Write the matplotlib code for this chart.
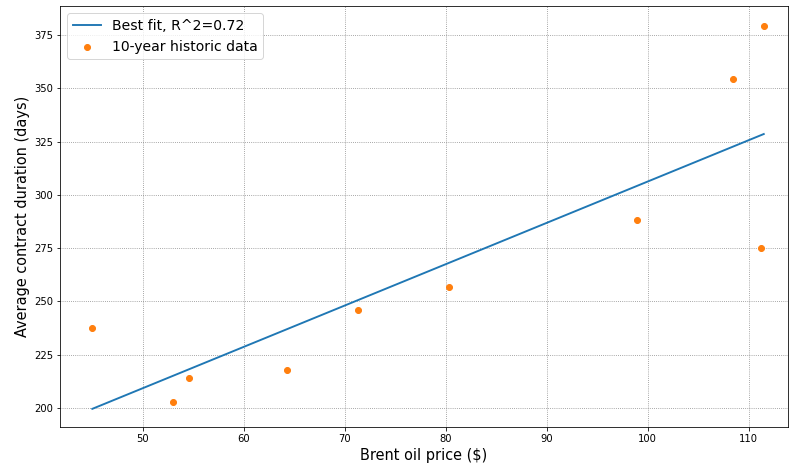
import numpy as np
import matplotlib.pyplot as plt

# brent oil price vs. average contract duration, 10 years
brent = np.array([45.0, 53.0, 54.6, 64.3, 71.3, 80.3, 98.95, 108.45, 111.2, 111.5])
duration = np.array([237.5, 202.8, 214.0, 217.8, 246.0, 257.0, 288.2, 354.4, 275.0, 379.3])

coef = np.polyfit(brent, duration, 1)
fit = np.polyval(coef, brent)
r2 = np.corrcoef(brent, duration)[0, 1] ** 2

fig = plt.figure(figsize=(789 / 72, 471 / 72), dpi=72)
ax = fig.add_axes([60 / 789, 44 / 471, 728 / 789, 421 / 471])

ax.plot(brent, fit, color='#1f77b4', linewidth=1.9, label='Best fit, R^2=%.2f' % r2)
ax.scatter(brent, duration, color='#ff7f0e', s=36, zorder=3, label='10-year historic data')

ax.set_xlim(41.8, 113.9)
ax.set_ylim(191.1, 388.6)
ax.grid(True, linestyle=':', color='gray', linewidth=0.8)
ax.set_xlabel('Brent oil price ($)', fontsize=14.5)
ax.set_ylabel('Average contract duration (days)', fontsize=14.5)
ax.tick_params(labelsize=10)
ax.legend(loc='upper left', fontsize=14)

fig.savefig('out.png', dpi=72)
